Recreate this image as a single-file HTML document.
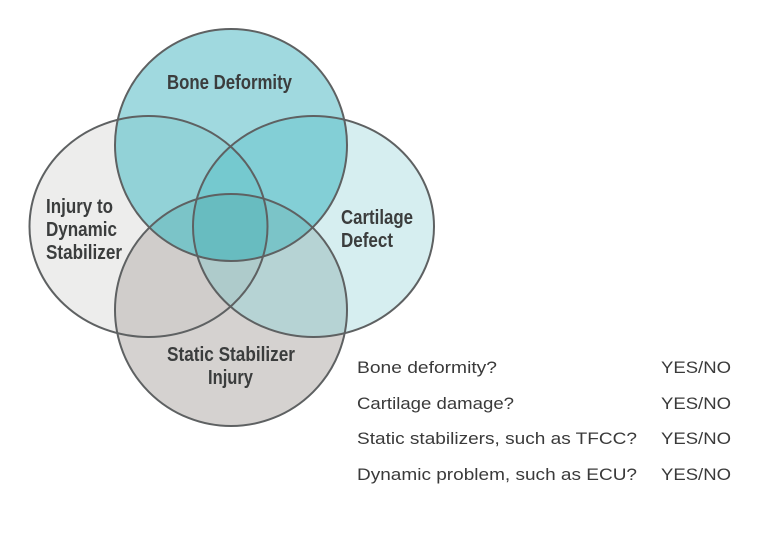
<!DOCTYPE html>
<html><head><meta charset="utf-8"><style>
html,body{margin:0;padding:0;background:#fff;}
svg{display:block;}
.l{font-family:"Liberation Sans Narrow","Liberation Sans",sans-serif;font-weight:bold;font-size:20px;fill:#3b3d3d;}
.t{font-family:"Liberation Sans",sans-serif;font-size:17px;fill:#3a3a3a;}
</style></head><body>
<svg width="767" height="535" viewBox="0 0 767 535" xmlns="http://www.w3.org/2000/svg">
<defs>
<clipPath id="cT"><circle cx="231" cy="145" r="116"/></clipPath>
<clipPath id="cL"><ellipse cx="148.5" cy="226.5" rx="119" ry="110.5"/></clipPath>
<clipPath id="cR"><ellipse cx="313.5" cy="226.5" rx="120.5" ry="110.5"/></clipPath>
<clipPath id="cB"><circle cx="231" cy="310" r="116"/></clipPath>
</defs>
<rect width="767" height="535" fill="#fff"/>
<!-- singles -->
<ellipse cx="148.5" cy="226.5" rx="119" ry="110.5" fill="#ededec"/>
<ellipse cx="313.5" cy="226.5" rx="120.5" ry="110.5" fill="#d6eef0"/>
<circle cx="231" cy="310" r="116" fill="#d5d2d0"/>
<circle cx="231" cy="145" r="116" fill="#a0d9df"/>
<!-- pairs -->
<g clip-path="url(#cT)"><ellipse cx="148.5" cy="226.5" rx="119" ry="110.5" fill="#92d2d7"/></g>
<g clip-path="url(#cT)"><ellipse cx="313.5" cy="226.5" rx="120.5" ry="110.5" fill="#83cfd6"/></g>
<g clip-path="url(#cB)"><ellipse cx="148.5" cy="226.5" rx="119" ry="110.5" fill="#d0cdcb"/></g>
<g clip-path="url(#cB)"><ellipse cx="313.5" cy="226.5" rx="120.5" ry="110.5" fill="#b6d3d4"/></g>
<g clip-path="url(#cB)"><circle cx="231" cy="145" r="116" fill="#7bc4c8"/></g>
<!-- triples -->
<g clip-path="url(#cL)"><g clip-path="url(#cR)"><circle cx="231" cy="145" r="116" fill="#75c9cf"/></g></g>
<g clip-path="url(#cL)"><g clip-path="url(#cR)"><circle cx="231" cy="310" r="116" fill="#aecbcb"/></g></g>
<g clip-path="url(#cL)"><g clip-path="url(#cR)"><g clip-path="url(#cB)"><circle cx="231" cy="145" r="116" fill="#68bcc0"/></g></g></g>
<!-- outlines -->
<g fill="none" stroke="#5e6162" stroke-width="2">
<ellipse cx="148.5" cy="226.5" rx="119" ry="110.5"/>
<ellipse cx="313.5" cy="226.5" rx="120.5" ry="110.5"/>
<circle cx="231" cy="310" r="116"/>
<circle cx="231" cy="145" r="116"/>
</g>
<!-- labels -->
<text class="l" x="167" y="89" textLength="125" lengthAdjust="spacingAndGlyphs">Bone Deformity</text>
<text class="l" x="46" y="213" textLength="67" lengthAdjust="spacingAndGlyphs">Injury to</text>
<text class="l" x="46" y="236" textLength="71" lengthAdjust="spacingAndGlyphs">Dynamic</text>
<text class="l" x="46" y="259" textLength="76" lengthAdjust="spacingAndGlyphs">Stabilizer</text>
<text class="l" x="341" y="224" textLength="72" lengthAdjust="spacingAndGlyphs">Cartilage</text>
<text class="l" x="341" y="247" textLength="52" lengthAdjust="spacingAndGlyphs">Defect</text>
<text class="l" x="167" y="361" textLength="128" lengthAdjust="spacingAndGlyphs">Static Stabilizer</text>
<text class="l" x="208" y="384" textLength="45" lengthAdjust="spacingAndGlyphs">Injury</text>
<!-- list -->
<text class="t" x="357" y="373" textLength="140" lengthAdjust="spacingAndGlyphs">Bone deformity?</text>
<text class="t" x="357" y="409" textLength="157" lengthAdjust="spacingAndGlyphs">Cartilage damage?</text>
<text class="t" x="357" y="444" textLength="280" lengthAdjust="spacingAndGlyphs">Static stabilizers, such as TFCC?</text>
<text class="t" x="357" y="480" textLength="280" lengthAdjust="spacingAndGlyphs">Dynamic problem, such as ECU?</text>
<text class="t" x="661" y="373" textLength="70" lengthAdjust="spacingAndGlyphs">YES/NO</text>
<text class="t" x="661" y="409" textLength="70" lengthAdjust="spacingAndGlyphs">YES/NO</text>
<text class="t" x="661" y="444" textLength="70" lengthAdjust="spacingAndGlyphs">YES/NO</text>
<text class="t" x="661" y="480" textLength="70" lengthAdjust="spacingAndGlyphs">YES/NO</text>
</svg>
</body></html>
